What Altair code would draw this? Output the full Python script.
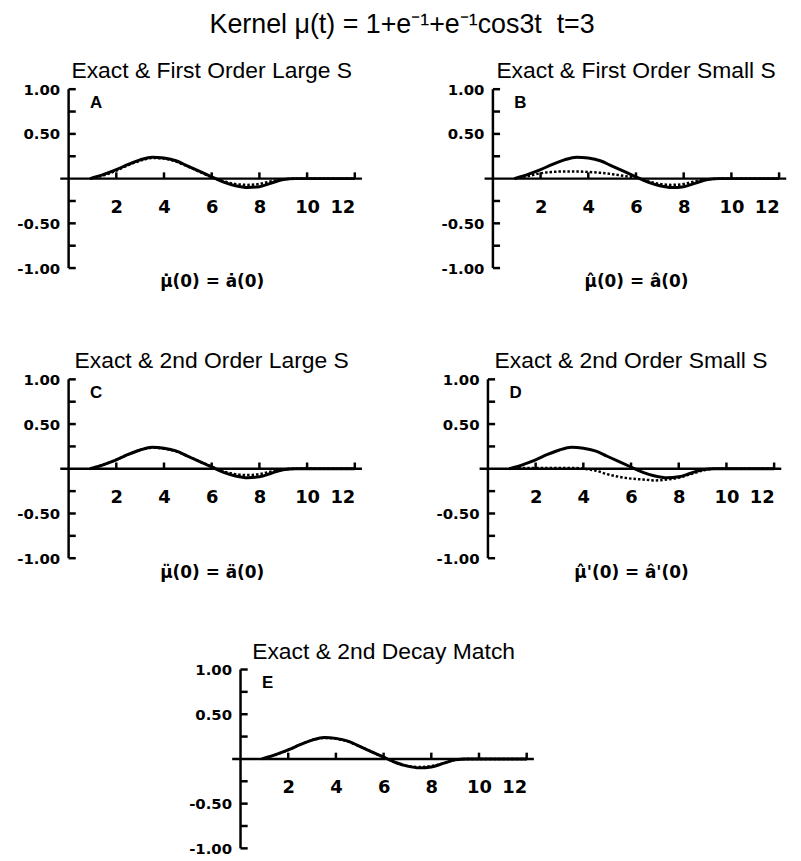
import altair as alt
import pandas as pd

MAIN_TITLE = "Kernel μ(t) = 1+e⁻¹+e⁻¹cos3t\u00a0\u00a0t=3"

t_values = [0.9, 1.5, 2.0, 2.5, 3.0, 3.5, 4.0, 4.5, 5.0, 5.5, 6.0, 6.5, 7.0, 7.5, 8.0, 8.5, 9.0, 9.5, 10.0, 11.0, 12.0]
exact = [0.0, 0.05, 0.10, 0.16, 0.21, 0.24, 0.23, 0.20, 0.14, 0.08, 0.02, -0.04, -0.08, -0.10, -0.09, -0.05, -0.01, 0.0, 0.0, 0.0, 0.0]
approx_A = [0.0, 0.04, 0.09, 0.15, 0.20, 0.23, 0.225, 0.19, 0.135, 0.075, 0.015, -0.03, -0.06, -0.07, -0.06, -0.03, -0.01, 0.0, 0.0, 0.0, 0.0]
approx_B = [0.0, 0.03, 0.06, 0.075, 0.08, 0.08, 0.075, 0.065, 0.05, 0.03, 0.01, -0.03, -0.06, -0.07, -0.06, -0.03, -0.01, 0.0, 0.0, 0.0, 0.0]
approx_C = [0.0, 0.05, 0.10, 0.16, 0.21, 0.235, 0.225, 0.195, 0.14, 0.08, 0.025, -0.03, -0.06, -0.07, -0.06, -0.03, -0.01, 0.0, 0.0, 0.0, 0.0]
approx_D = [0.0, 0.01, 0.01, 0.01, 0.01, 0.01, 0.0, -0.02, -0.06, -0.09, -0.11, -0.12, -0.13, -0.12, -0.10, -0.06, -0.02, 0.0, 0.0, 0.0, 0.0]
approx_E = [0.0, 0.05, 0.10, 0.16, 0.21, 0.235, 0.225, 0.195, 0.14, 0.08, 0.02, -0.04, -0.08, -0.09, -0.08, -0.05, -0.01, 0.0, 0.0, 0.0, 0.0]

approx = {"A": approx_A, "B": approx_B, "C": approx_C, "D": approx_D, "E": approx_E}
panel_titles = {
    "A": "Exact & First Order Large S",
    "B": "Exact & First Order Small S",
    "C": "Exact & 2nd Order Large S",
    "D": "Exact & 2nd Order Small S",
    "E": "Exact & 2nd Decay Match",
}
captions = {
    "A": "μ\u0307(0) = a\u0307(0)",
    "B": "μ\u0302(0) = a\u0302(0)",
    "C": "μ\u0308(0) = a\u0308(0)",
    "D": "μ\u0302'(0) = a\u0302'(0)",
    "E": "",
}
x_ticks = [2, 4, 6, 8, 10, 12]
y_labels = [-1.0, -0.5, 0.5, 1.0]
y_ticks = [-1.0, -0.75, -0.5, -0.25, 0.25, 0.5, 0.75, 1.0]

W, H = 288, 180
LABEL_FONT = "DejaVu Sans"
TEXT_FONT = "Liberation Sans"

xs = alt.Scale(domain=[0, 12], nice=False, zero=False)
ys = alt.Scale(domain=[-1, 1], nice=False, zero=False)


def panel(key):
    df_exact = pd.DataFrame({"t": t_values, "v": exact})
    df_approx = pd.DataFrame({"t": t_values, "v": approx[key]})

    xkw = dict(values=x_ticks, offset=-H / 2, domain=False, ticks=False, tickSize=0,
               grid=False, labelPadding=20, labelFont=LABEL_FONT, labelFontSize=18,
               labelFontWeight="bold", labelColor="black")
    if captions[key]:
        xkw.update(title=captions[key], titlePadding=58, titleFont=LABEL_FONT,
                   titleFontSize=17, titleFontWeight="bold", titleColor="black")
    else:
        xkw.update(title=None)
    xax = alt.Axis(**xkw)
    yax = alt.Axis(values=y_labels, domain=False, ticks=False, tickSize=0, grid=False,
                   labelPadding=9, labelFont=LABEL_FONT, labelFontSize=15,
                   labelFontWeight="bold", labelColor="black", title=None,
                   labelExpr="(datum.value < 0 ? '-' : '') + format(abs(datum.value), '.2f')")

    X = lambda: alt.X("t:Q", scale=xs, axis=xax)
    Y = lambda: alt.Y("v:Q", scale=ys, axis=yax)

    segs = [(-0.35, 12.3, 0.0, 0.0), (0.0, 0.0, -1.0, 1.0)]
    for k in x_ticks:
        segs.append((k, k, 0.0, 0.07))
    for v in y_ticks:
        segs.append((0.0, 0.3, v, v))
    df_seg = pd.DataFrame(segs, columns=["t", "t2", "v", "v2"])
    rules = alt.Chart(df_seg).mark_rule(color="black", strokeWidth=2.5).encode(
        x=X(), x2="t2:Q", y=Y(), y2="v2:Q",
    )

    line_exact = alt.Chart(df_exact).mark_line(color="black", strokeWidth=3, interpolate="monotone").encode(
        x=X(), y=Y(),
    )
    line_approx = alt.Chart(df_approx).mark_line(color="black", strokeWidth=2.5, strokeDash=[2.5, 2],
                                                 interpolate="monotone").encode(
        x=X(), y=Y(),
    )

    df_letter = pd.DataFrame({"t": [0.9], "v": [0.845], "label": [key]})
    letter = alt.Chart(df_letter).mark_text(font=TEXT_FONT, fontSize=17, fontWeight="bold",
                                            align="left", baseline="middle", color="black").encode(
        x=X(), y=Y(), text="label:N",
    )

    return alt.layer(rules, line_exact, line_approx, letter).properties(
        width=W, height=H,
        title=alt.TitleParams(panel_titles[key], font=TEXT_FONT, fontSize=23,
                              fontWeight="normal", color="black", anchor="middle", offset=-1),
    )


spacer = alt.Chart(pd.DataFrame({"s": [0.0, 1.0]})).mark_point(opacity=0, size=1).encode(
    x=alt.X("s:Q", axis=None, scale=alt.Scale(domain=[0, 1])),
    y=alt.Y("s:Q", axis=None, scale=alt.Scale(domain=[0, 1])),
).properties(width=119, height=10)

row1 = alt.hconcat(panel("A"), panel("B"), spacing=77)
row2 = alt.hconcat(panel("C"), panel("D"), spacing=72)
row3 = alt.hconcat(spacer, panel("E"), spacing=0)

chart = alt.vconcat(
    alt.vconcat(row1, row2, spacing=61),
    row3,
    spacing=61,
).properties(
    title=alt.TitleParams(MAIN_TITLE, font=TEXT_FONT, fontSize=27, fontWeight="normal",
                          color="black", anchor="middle", offset=22),
    background="white",
    padding={"left": 8, "top": 0, "right": 5, "bottom": 0},
).configure_view(stroke=None)

chart.save("out.html", embed_options={"renderer": "svg", "actions": False})
